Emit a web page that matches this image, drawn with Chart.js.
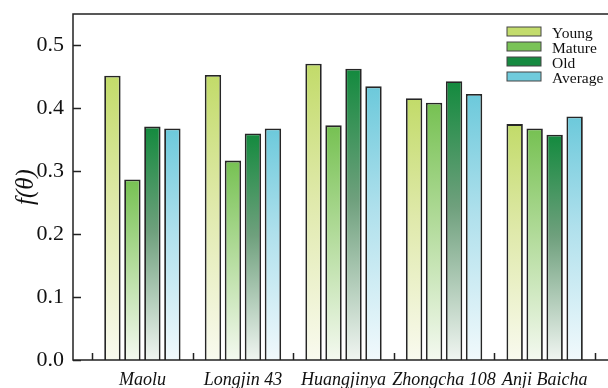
<!DOCTYPE html>
<html>
<head>
<meta charset="utf-8">
<script src="https://cdn.jsdelivr.net/npm/chart.js@4.4.1/dist/chart.umd.min.js"></script>
<style>
  html, body { margin: 0; padding: 0; background: #fff; }
  #wrap { width: 608px; height: 388px; }
</style>
</head>
<body>
<div id="wrap"><canvas id="chart" width="608" height="388"></canvas></div>
<script>
var cultivars = ["Maolu", "Longjin 43", "Huangjinya", "Zhongcha 108", "Anji Baicha"];
var young   = [0.452, 0.453, 0.471, 0.416, 0.375];
var mature  = [0.287, 0.317, 0.373, 0.409, 0.368];
var old     = [0.371, 0.360, 0.463, 0.443, 0.358];
var average = [0.368, 0.368, 0.435, 0.423, 0.387];
var yTicks = [0, 0.1, 0.2, 0.3, 0.4, 0.5];

var seriesNames = ["Young", "Mature", "Old", "Average"];
var seriesValues = [young, mature, old, average];
var solidColors = ["#c3dc6c", "#7ac357", "#168a40", "#70cbdc"];
var gradientStops = [
    ["#c2db69", "#dfe9aa", "#f9faef"],
    ["#76c152", "#b0da98", "#f4f9f0"],
    ["#138a3e", "#6fa07d", "#f0f5f1"],
    ["#6cc9db", "#afe0ec", "#f1f9fc"]
];

// each bar fades from its own top down to white at zero
function makeGradient(i) {
    return function (ctx) {
        var chart = ctx.chart;
        if (!chart.chartArea || !ctx.parsed) return solidColors[i];
        var y = chart.scales.y;
        var g = chart.ctx.createLinearGradient(0, y.getPixelForValue(ctx.parsed.y), 0, y.getPixelForValue(0));
        g.addColorStop(0, gradientStops[i][0]);
        g.addColorStop(0.45, gradientStops[i][1]);
        g.addColorStop(1, gradientStops[i][2]);
        return g;
    };
}

var datasets = seriesNames.map(function (name, i) {
    return {
        label: name,
        data: seriesValues[i].map(function (v, k) { return { x: k, y: v }; }),
        backgroundColor: makeGradient(i),
        borderColor: "#262626",
        borderWidth: 1.8,
        categoryPercentage: 0.795,
        barPercentage: 0.82
    };
});

// frame, inward ticks and legend
var framePlugin = {
    id: "frame",
    afterDraw: function (chart) {
        var c = chart.ctx, a = chart.chartArea;
        var xs = chart.scales.x, ys = chart.scales.y;
        c.save();
        c.strokeStyle = "#222";
        c.lineWidth = 1.5;
        c.beginPath();
        c.moveTo(a.right + 2, a.top); c.lineTo(a.left, a.top);
        c.lineTo(a.left, a.bottom); c.lineTo(a.right + 2, a.bottom);
        yTicks.forEach(function (v) {
            var py = Math.round(ys.getPixelForValue(v)) + 0.5;
            c.moveTo(a.left, py); c.lineTo(a.left + 8, py);
        });
        for (var k = -0.5; k < cultivars.length; k += 1) {
            var px = Math.round(xs.getPixelForValue(k)) + 0.5;
            c.moveTo(px, a.bottom); c.lineTo(px, a.bottom - 7);
        }
        c.stroke();

        // legend
        c.font = "15.5px 'Liberation Serif', 'Times New Roman', serif";
        c.textBaseline = "middle";
        c.textAlign = "left";
        seriesNames.forEach(function (name, i) {
            var by = 27 + i * 15;
            c.fillStyle = solidColors[i];
            c.fillRect(507, by, 34, 9);
            c.lineWidth = 1;
            c.strokeStyle = "#444";
            c.strokeRect(507, by, 34, 9);
            c.fillStyle = "#111";
            c.fillText(name, 552, by + 7);
        });
        c.restore();
    }
};

new Chart(document.getElementById("chart").getContext("2d"), {
    type: "bar",
    data: { datasets: datasets },
    options: {
        responsive: false,
        animation: false,
        layout: { padding: { left: 0, top: 14, right: 0, bottom: 0 } },
        plugins: { legend: { display: false }, tooltip: { enabled: false } },
        scales: {
            x: {
                type: "linear",
                offset: false,
                min: -0.69,
                max: 4.63,
                grid: { display: false, drawTicks: false, offset: false },
                border: { display: false },
                afterBuildTicks: function (s) {
                    s.ticks = cultivars.map(function (n, k) { return { value: k }; });
                },
                afterFit: function (s) {
                    s.height = 28;
                    s.paddingLeft = 0; s.paddingRight = 0;
                },
                ticks: {
                    autoSkip: false,
                    maxRotation: 0,
                    padding: 9,
                    color: "#111",
                    font: { family: "'Liberation Serif', 'Times New Roman', serif", size: 18, style: "italic" },
                    callback: function (v) { return cultivars[v]; }
                }
            },
            y: {
                min: 0,
                max: 0.55,
                grid: { display: false, drawTicks: false },
                border: { display: false },
                afterBuildTicks: function (s) {
                    s.ticks = yTicks.map(function (v) { return { value: v }; });
                },
                afterFit: function (s) {
                    s.width = 73;
                    s.paddingTop = 0; s.paddingBottom = 0;
                },
                ticks: {
                    padding: 9,
                    color: "#111",
                    font: { family: "'Liberation Serif', 'Times New Roman', serif", size: 22 },
                    callback: function (v) { return Number(v).toFixed(1); }
                },
                title: {
                    display: true,
                    text: "f(\u03B8)",
                    color: "#111",
                    padding: { top: 11, bottom: 0 },
                    font: { family: "'Liberation Serif', 'Times New Roman', serif", size: 25, style: "italic" }
                }
            }
        }
    },
    plugins: [framePlugin]
});
</script>
</body>
</html>
